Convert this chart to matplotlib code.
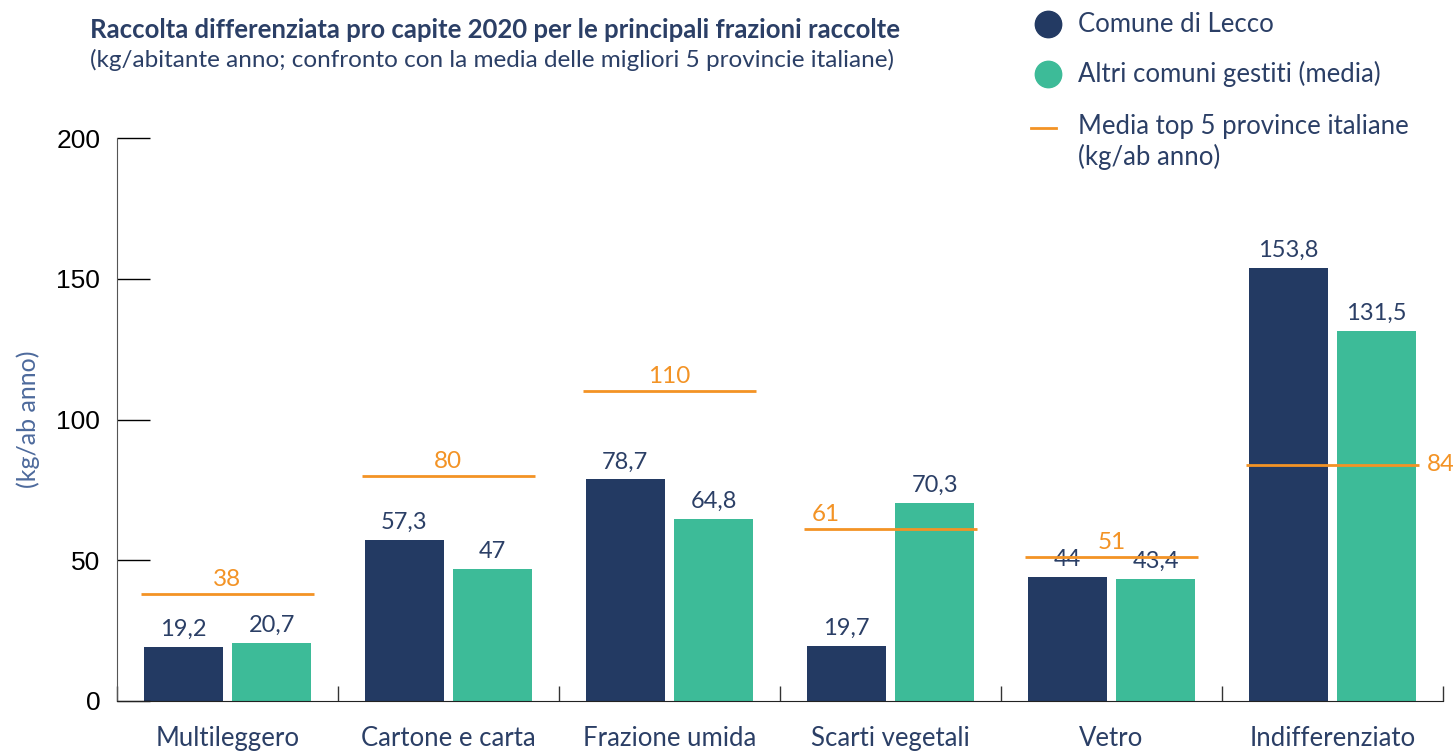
import numpy as np
import matplotlib
matplotlib.use("Agg")
import matplotlib.pyplot as plt
from matplotlib.lines import Line2D

categorie = ["Multileggero", "Cartone e carta", "Frazione umida",
             "Scarti vegetali", "Vetro", "Indifferenziato"]
lecco = [19.2, 57.3, 78.7, 19.7, 44, 153.8]
altri = [20.7, 47, 64.8, 70.3, 43.4, 131.5]
top5 = [38, 80, 110, 61, 51, 84]
yticks = [0, 50, 100, 150, 200]

NAVY = "#233a63"
GREEN = "#3dbb98"
ORANGE = "#f39325"
TXT = "#2b3f66"

plt.rcParams['font.family'] = ['Lato', 'DejaVu Sans']

def fmt(v):
    return ("%g" % v).replace(".", ",")

W, H = 1453, 751
fig = plt.figure(figsize=(14.53, 7.51), dpi=100)
ax = fig.add_axes([0.0805, 0.0666, 0.9125, 0.7496])

x = np.arange(len(categorie))
w = 0.357
off = 0.2
ax.bar(x - off, lecco, w, color=NAVY)
ax.bar(x + off, altri, w, color=GREEN)

for i in range(len(x)):
    ax.annotate(fmt(lecco[i]), (x[i] - off, lecco[i]), xytext=(0, 5),
                textcoords="offset points", ha="center", va="bottom",
                fontsize=17, color=TXT)
    ax.annotate(fmt(altri[i]), (x[i] + off, altri[i]), xytext=(0, 5),
                textcoords="offset points", ha="center", va="bottom",
                fontsize=17, color=TXT)
    ax.hlines(top5[i], x[i] - 0.39, x[i] + 0.39, color=ORANGE, lw=2, zorder=3)
    if i == len(x) - 1:
        ax.annotate(fmt(top5[i]), (x[i] + 0.39, top5[i]), xytext=(6, 0),
                    textcoords="offset points", ha="left", va="center",
                    fontsize=17.5, color=ORANGE, annotation_clip=False)
    else:
        # "61" sits over the navy bar side so it does not hit the green bar
        lx = x[i] - 0.29 if i == 3 else x[i]
        ax.annotate(fmt(top5[i]), (lx, top5[i]), xytext=(0, 3),
                    textcoords="offset points", ha="center", va="bottom",
                    fontsize=17.5, color=ORANGE)

ax.set_xlim(-0.5, 5.5)
ax.set_ylim(0, 200)
ax.set_yticks(yticks)
ax.set_yticklabels([str(t) for t in yticks], family=['Liberation Sans'],
                   fontsize=19, color="black")
ax.tick_params(axis="y", direction="in", length=24, width=1, pad=12, color="black")
ax.set_xticks(x)
ax.set_xticklabels(categorie, fontsize=18.5, color=TXT)
ax.set_xticks(np.arange(-0.5, 6, 1), minor=True)
ax.tick_params(axis="x", which="major", length=0, pad=18)
ax.tick_params(axis="x", which="minor", direction="in", length=11, width=1, color="#333333")
ax.spines["top"].set_visible(False)
ax.spines["right"].set_visible(False)
ax.spines["left"].set_color("#555555")
ax.spines["bottom"].set_color("#222222")
ax.set_ylabel("(kg/ab anno)", fontsize=18, color="#4d6a9c")
ax.yaxis.set_label_coords(-0.058, 0.5)

fig.text(90 / W, 1 - 30 / H, "Raccolta differenziata pro capite 2020 per le principali frazioni raccolte",
         fontsize=18.5, fontweight="bold", color=TXT, va="center", ha="left")
fig.text(90 / W, 1 - 60 / H, "(kg/abitante anno; confronto con la media delle migliori 5 provincie italiane)",
         fontsize=17.5, color=TXT, va="center", ha="left")

# legend drawn by hand to match the row spacing
fig.add_artist(Line2D([1048 / W], [1 - 24 / H], marker="o", ls="none", color=NAVY,
                      markersize=19, transform=fig.transFigure))
fig.add_artist(Line2D([1048 / W], [1 - 74 / H], marker="o", ls="none", color=GREEN,
                      markersize=19, transform=fig.transFigure))
fig.add_artist(Line2D([1031 / W, 1056 / W], [1 - 128 / H, 1 - 128 / H], color=ORANGE,
                      lw=2, transform=fig.transFigure))
fig.text(1078 / W, 1 - 24 / H, "Comune di Lecco", fontsize=18.5, color=TXT, va="center")
fig.text(1078 / W, 1 - 74 / H, "Altri comuni gestiti (media)", fontsize=18.5, color=TXT, va="center")
fig.text(1078 / W, 1 - 114 / H, "Media top 5 province italiane\n(kg/ab anno)", fontsize=18.5,
         color=TXT, va="top", linespacing=1.25)

fig.savefig("out.png", dpi=100)
